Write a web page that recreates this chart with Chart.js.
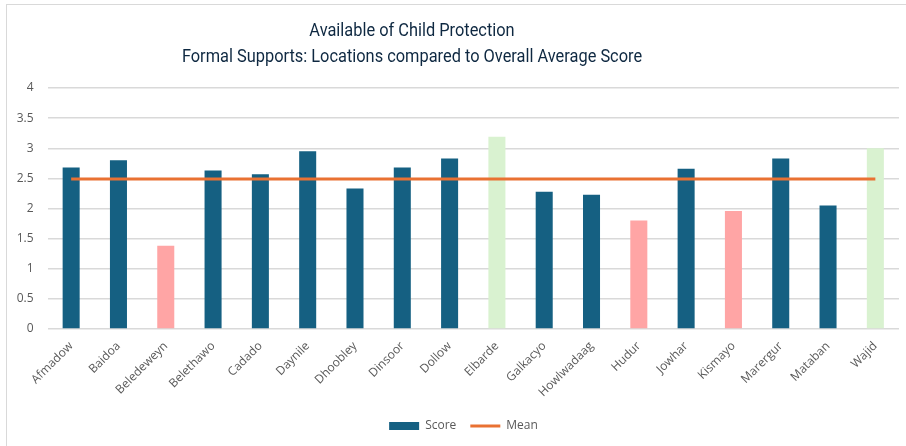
<!DOCTYPE html>
<html>
<head>
<meta charset="utf-8">
<script src="https://cdn.jsdelivr.net/npm/chart.js@4/dist/chart.umd.min.js"></script>
<style>
  html, body { margin: 0; padding: 0; background: #fff; }
  #wrap { position: relative; width: 906px; height: 446px; }
</style>
</head>
<body>
<div id="wrap"><canvas id="grafico" width="906" height="446"></canvas></div>
<script>
const ubicaciones = ["Afmadow", "Baidoa", "Beledeweyn", "Belethawo", "Cadado", "Daynile", "Dhoobley", "Dinsoor", "Dollow", "Elbarde", "Galkacyo", "Howlwadaag", "Hudur", "Jowhar", "Kismayo", "Marergur", "Mataban", "Wajid"];
const puntajes = [2.68, 2.80, 1.38, 2.63, 2.57, 2.95, 2.33, 2.68, 2.83, 3.19, 2.28, 2.23, 1.80, 2.66, 1.96, 2.83, 2.05, 3.00];
const promedio = [2.49, 2.49, 2.49, 2.49, 2.49, 2.49, 2.49, 2.49, 2.49, 2.49, 2.49, 2.49, 2.49, 2.49, 2.49, 2.49, 2.49, 2.49];
const marcasEje = [0, 0.5, 1, 1.5, 2, 2.5, 3, 3.5, 4];
const titulo = ["Available of Child Protection", "Formal Supports: Locations compared to Overall Average Score"];

const AZUL = "#156082";
const ROSA = "#FFA5A5";
const VERDE = "#D9F2D0";
const NARANJA = "#E97132";
const GRIS = "#595959";

// bajo 2 en rosa, desde 3 en verde, el resto azul
const colorBarra = (c) => {
  if (c.dataIndex === undefined) return AZUL;
  const v = puntajes[c.dataIndex];
  if (v < 2) return ROSA;
  if (v >= 3) return VERDE;
  return AZUL;
};

// marco gris claro, titulo angosto en dos lineas y leyenda corrida a la derecha
const marcoYTitulo = {
  id: "marcoYTitulo",
  afterLayout(chart) {
    if (chart.legend) {
      chart.legend.left += 14;
      chart.legend.right += 14;
    }
  },
  beforeDraw(chart) {
    const { ctx } = chart;
    ctx.save();
    ctx.strokeStyle = "#d9d9d9";
    ctx.lineWidth = 1;
    ctx.strokeRect(6.5, 4.5, 1000, 1000);
    ctx.restore();
  },
  afterDraw(chart) {
    const { ctx } = chart;
    ctx.save();
    ctx.fillStyle = "#0E2841";
    ctx.font = "18px Roboto, sans-serif";
    ctx.textAlign = "center";
    ctx.textBaseline = "middle";
    ctx.translate(412, 0);
    ctx.scale(0.91, 1);
    ctx.fillText(titulo[0], 0, 31);
    ctx.fillText(titulo[1], 0, 57);
    ctx.restore();
  },
};

const fuente = "'Open Sans', Roboto, sans-serif";

new Chart(document.getElementById("grafico"), {
  data: {
    labels: ubicaciones,
    datasets: [
      {
        type: "bar",
        label: "Score",
        data: puntajes,
        backgroundColor: colorBarra,
        borderWidth: 0,
        barPercentage: 0.36,
        categoryPercentage: 1,
        pointStyle: "rect",
        order: 2,
      },
      {
        type: "line",
        label: "Mean",
        data: promedio,
        borderColor: NARANJA,
        backgroundColor: NARANJA,
        borderWidth: 3,
        pointRadius: 0,
        pointStyle: "line",
        order: 1,
      },
    ],
  },
  options: {
    responsive: false,
    animation: false,
    layout: { padding: { left: 0, right: 7, top: 88, bottom: 4 } },
    plugins: {
      tooltip: { enabled: false },
      title: { display: false },
      legend: {
        position: "bottom",
        labels: {
          sort: (a, b) => a.datasetIndex - b.datasetIndex,
          usePointStyle: true,
          pointStyleWidth: 30,
          boxHeight: 8,
          padding: 14,
          color: GRIS,
          font: { family: fuente, size: 12 },
        },
      },
    },
    scales: {
      x: {
        grid: { display: false },
        border: { display: false },
        ticks: {
          color: GRIS,
          font: { family: fuente, size: 12 },
          minRotation: 45,
          maxRotation: 45,
          padding: 2,
        },
        afterFit: (s) => { s.height = 77; },
      },
      y: {
        min: 0,
        max: 4,
        afterBuildTicks: (s) => { s.ticks = marcasEje.map((v) => ({ value: v })); },
        grid: { color: "#d9d9d9", lineWidth: 1.5, drawTicks: false },
        border: { display: false },
        ticks: {
          color: GRIS,
          font: { family: fuente, size: 12 },
          padding: 14,
          callback: (v) => String(v),
        },
        afterFit: (s) => { s.width = 47.5; },
      },
    },
  },
  plugins: [marcoYTitulo],
});
</script>
</body>
</html>
